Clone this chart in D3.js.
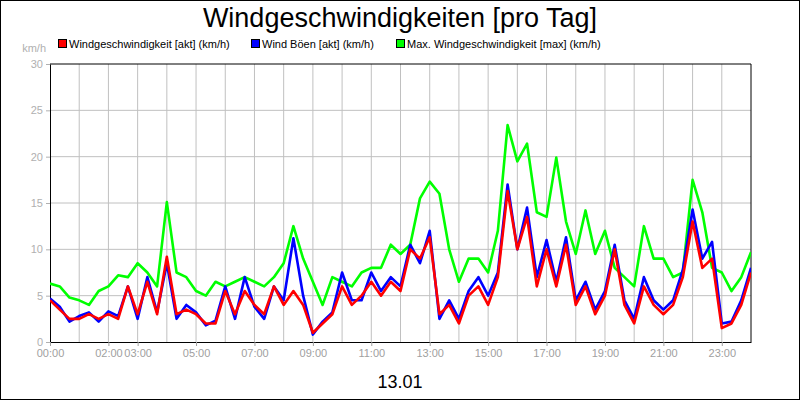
<!DOCTYPE html>
<html><head><meta charset="utf-8">
<script src="https://cdn.jsdelivr.net/npm/d3@7"></script>
<style>body{margin:0;background:#fff}svg{display:block;font-family:"Liberation Sans",Arial,sans-serif}</style>
</head><body><svg id="c" width="800" height="400"></svg>
<script>
// hours of day, 20-minute steps
const hours = d3.range(0, 24.01, 1/3);
const akt = [4.5,3.5,2.5,2.5,3,2.5,3,2.5,6,3,6.5,3,9.2,3,3.5,3,2,2,5.5,3,5.5,4,3,6,4,5.5,4,1,2,3,6,4,5,6.5,5,6.5,5.5,10,9,11.3,3,4,2,5,6,4,7,16.3,10,13.5,6,10,6,10.5,4,6,3,5,10,4,2,6,4,3,4,7,13,8,9,1.5,2,4,7.5];
const boeen = [4.7,3.8,2.2,2.8,3.2,2.2,3.3,2.8,6,2.5,7,3.2,8.5,2.5,4,3.2,1.8,2.3,6,2.5,7,3.8,2.5,6,4.5,11.2,5,0.8,2.2,3.2,7.5,4.5,4.5,7.5,5.5,7,6,10.5,8.5,12,2.5,4.5,2.5,5.5,7,5,7.5,17,10,14.5,7,11,6.5,11.3,4.5,6.5,3.5,5.5,10.5,4.5,2.5,7,4.5,3.5,4.5,7.8,14.3,9,10.8,2,2.2,4.5,8];
const maxw = [6.3,6,4.8,4.5,4,5.5,6,7.2,7,8.5,7.5,6,15.1,7.5,7,5.5,5,6.5,6,6.5,7,6.5,6,7,8.5,12.5,9,6.5,4,7,6.5,6,7.5,8,8,10.5,9.5,10.5,15.5,17.3,16,10,6.5,9,9,7.5,12,23.4,19.5,21.4,14,13.5,19.9,13,9.5,14.2,9.5,12,8,7,6,12.5,9,9,7,7.5,17.5,14,8,7.5,5.5,7,9.7];
const yTicks = [0,5,10,15,20,25,30];
const xTickHours = [0,2,3,5,7,9,11,13,15,17,19,21,23];
const seriesNames = ["Windgeschwindigkeit [akt] (km/h)","Wind Böen [akt] (km/h)","Max. Windgeschwindigkeit [max] (km/h)"];
const colors = ["#ff0000","#0000ff","#00ff00"];

const svg = d3.select("#c");
svg.append("rect").attr("x",0.5).attr("y",0.5).attr("width",799).attr("height",399).attr("fill","#fff").attr("stroke","#000");
const L=50,R=751,T=64,B=342;
const x = d3.scaleLinear().domain([0,24]).range([L,R]);
const y = d3.scaleLinear().domain([0,30]).range([B,T]);

// grid
svg.append("g").selectAll("line").data(d3.range(1,24)).join("line")
  .attr("x1",d=>x(d)).attr("x2",d=>x(d)).attr("y1",T).attr("y2",B).attr("stroke","#c0c0c0");
svg.append("g").selectAll("line").data(yTicks.slice(1,-1)).join("line")
  .attr("x1",L).attr("x2",R).attr("y1",d=>y(d)).attr("y2",d=>y(d)).attr("stroke","#c0c0c0");

// axes
const ya = svg.append("g").attr("transform",`translate(${L},0)`)
  .call(d3.axisLeft(y).tickValues(yTicks).tickSize(4).tickSizeOuter(0));
ya.selectAll("text").attr("fill","#b0b0b0").attr("font-size",11).attr("font-family","Liberation Sans,Arial");
ya.selectAll(".tick line").attr("stroke","#b0b0b0");
ya.select(".domain").attr("stroke","#000");
const xa = svg.append("g").attr("transform",`translate(0,${B})`)
  .call(d3.axisBottom(x).tickValues(xTickHours).tickFormat(d=>String(d).padStart(2,"0")+":00").tickSize(4).tickSizeOuter(0));
xa.selectAll("text").attr("fill","#a0a0a0").attr("font-size",11).attr("font-family","Liberation Sans,Arial");
xa.selectAll(".tick line").attr("stroke","#a0a0a0");
xa.select(".domain").attr("stroke","#000");
svg.append("line").attr("x1",L).attr("x2",R).attr("y1",T).attr("y2",T).attr("stroke","#000");
svg.append("line").attr("x1",R).attr("x2",R).attr("y1",T).attr("y2",B).attr("stroke","#000");

svg.append("text").attr("x",L-4).attr("y",52).attr("text-anchor","end").attr("fill","#b0b0b0").attr("font-size",11).text("km/h");

const line = d3.line().x((d,i)=>x(hours[i])).y(d=>y(d));
const clip = svg.append("clipPath").attr("id","cp").append("rect").attr("x",L).attr("y",T-2).attr("width",R-L).attr("height",B-T+2);
[[maxw,2],[boeen,1],[akt,0]].forEach(([data,ci])=>{
  svg.append("path").datum(data).attr("d",line).attr("fill","none").attr("stroke",colors[ci])
    .attr("stroke-width",2.6).attr("stroke-linejoin","round").attr("clip-path","url(#cp)");
});

// title
svg.append("text").attr("x",400).attr("y",27).attr("text-anchor","middle").attr("font-size",27).text("Windgeschwindigkeiten [pro Tag]");
svg.append("text").attr("x",400).attr("y",388).attr("text-anchor","middle").attr("font-size",18).text("13.01");

// legend
const lx=[59,252,397];
seriesNames.forEach((n,i)=>{
  svg.append("rect").attr("x",lx[i]-0.5).attr("y",39.5).attr("width",8).attr("height",8).attr("fill",colors[i]).attr("stroke","#000");
  svg.append("text").attr("x",lx[i]+10).attr("y",48).attr("font-size",11).text(n);
});
</script></body></html>
